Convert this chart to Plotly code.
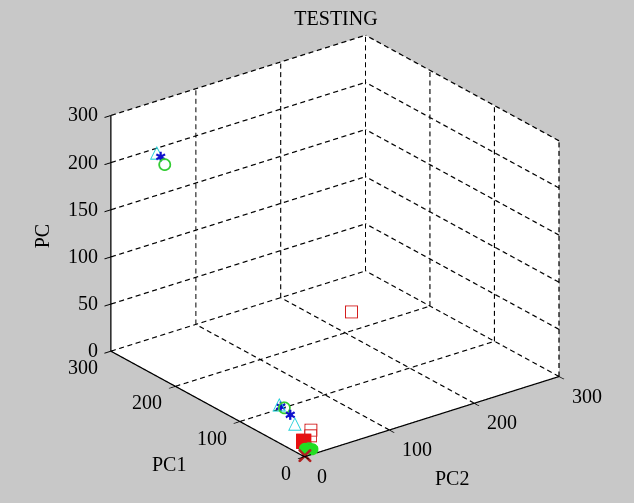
import numpy as np
import plotly.graph_objects as go

# ---- axis ticks ----
PC1_TICKS = [0, 100, 200, 300]
PC2_TICKS = [0, 100, 200, 300]
PC_TICKVALS = [0, 50, 100, 150, 200, 250]
PC_TICKTEXT = ["0", "50", "100", "150", "200", "300"]

# ---- data (PC1, PC2, PC) per class ----
cyan_tri_pc1 = [241, 48, 88]
cyan_tri_pc2 = [9, 25, 37]
cyan_tri_pc = [230, 10, 12]

blue_star_pc1 = [235, 87, 67]
blue_star_pc2 = [9, 38, 34]
blue_star_pc = [228, 10, 10]

green_circ_pc1 = [229, 83, 4]
green_circ_pc2 = [9, 39, 8]
green_circ_pc = [222, 10, 5]

red_sq_pc1 = [214, 19, 9]
red_sq_pc2 = [218, 22, 14]
red_sq_pc = [12, 15, 15]

red_fill_pc1 = [12]
red_fill_pc2 = [8]
red_fill_pc = [10]

green_fill_pc1 = [6, 1]
green_fill_pc2 = [5, 10]
green_fill_pc = [5, 5]

blue_fill_pc1 = [9]
blue_fill_pc2 = [4]
blue_fill_pc = [3]

red_x_pc1 = [2]
red_x_pc2 = [2]
red_x_pc = [0]

PC1_MAX = PC1_TICKS[-1]
PC2_MAX = PC2_TICKS[-1]
PC_MAX = PC_TICKVALS[-1]

FONT = "Liberation Serif"
FS = 20

fig = go.Figure()

# ---- dashed grid built from tick arrays (x = PC2, y = PC1, z = PC) ----
gx, gy, gz = [], [], []
# dash pattern lengths, in axis units, per axis direction (x, y, z)
DASH = {0: (5.7, 9.7), 1: (6.8, 11.5), 2: (5.3, 9.0)}

def dashed(a, b):
    a = np.array(a, float); b = np.array(b, float)
    d = b - a
    k = int(np.argmax(np.abs(d)))
    L = abs(d[k]); u = d / L
    on, period = DASH[k]
    for s in np.arange(0, L, period):
        e = min(s + on, L)
        p0 = a + u * s; p1 = a + u * e
        gx.extend([p0[0], p1[0], None]); gy.extend([p0[1], p1[1], None]); gz.extend([p0[2], p1[2], None])

for p in PC1_TICKS[1:]:
    dashed((0, p, 0), (PC2_MAX, p, 0))
for q in PC2_TICKS[1:]:
    dashed((q, 0, 0), (q, PC1_MAX, 0))
for h in PC_TICKVALS[1:]:
    dashed((0, PC1_MAX, h), (PC2_MAX, PC1_MAX, h))
    dashed((PC2_MAX, 0, h), (PC2_MAX, PC1_MAX, h))
for q in PC2_TICKS[1:]:
    dashed((q, PC1_MAX, 0), (q, PC1_MAX, PC_MAX))
for p in PC1_TICKS[:-1]:
    dashed((PC2_MAX, p, 0), (PC2_MAX, p, PC_MAX))

fig.add_trace(go.Scatter3d(x=gx, y=gy, z=gz, mode="lines",
                           line=dict(color="black", width=2.5),
                           hoverinfo="skip", showlegend=False))

# ---- solid axis lines ----
ax_x = [0, 0, None, 0, PC2_MAX, None, 0, 0]
ax_y = [0, PC1_MAX, None, 0, 0, None, PC1_MAX, PC1_MAX]
ax_z = [0, 0, None, 0, 0, None, 0, PC_MAX]
fig.add_trace(go.Scatter3d(x=ax_x, y=ax_y, z=ax_z, mode="lines",
                           line=dict(color="black", width=2.5),
                           hoverinfo="skip", showlegend=False))

# ---- data ----
def pts(pc1, pc2, pc, **kw):
    fig.add_trace(go.Scatter3d(x=pc2, y=pc1, z=pc, showlegend=False, hoverinfo="skip", **kw))

pts(red_sq_pc1, red_sq_pc2, red_sq_pc, mode="text", text=["□"] * len(red_sq_pc1),
    textposition="middle center",
    textfont=dict(family="DejaVu Sans", size=17, color="#d41c1c"))
pts(red_fill_pc1, red_fill_pc2, red_fill_pc, mode="markers",
    marker=dict(symbol="square", size=8, color="#e81010"))
pts(green_fill_pc1, green_fill_pc2, green_fill_pc, mode="markers",
    marker=dict(symbol="circle", size=7, color="#22dd22"))
pts(blue_fill_pc1, blue_fill_pc2, blue_fill_pc, mode="markers",
    marker=dict(symbol="circle", size=4, color="#0000cc"))
pts(red_x_pc1, red_x_pc2, red_x_pc, mode="markers",
    marker=dict(symbol="x", size=3, color="#b02020"))
pts(green_circ_pc1, green_circ_pc2, green_circ_pc, mode="markers",
    marker=dict(symbol="circle-open", size=7, color="#33cc33", line=dict(width=2, color="#33cc33")))
pts(cyan_tri_pc1, cyan_tri_pc2, cyan_tri_pc, mode="text", text=["△"] * len(cyan_tri_pc1),
    textposition="middle center",
    textfont=dict(size=18, color="#22d0d8"))
pts(blue_star_pc1, blue_star_pc2, blue_star_pc, mode="text", text=["✱"] * len(blue_star_pc1),
    textposition="middle center",
    textfont=dict(size=14, color="#1010cc"))

# ---- tick labels & axis titles as scene annotations (upright text) ----
anns = []
def ann(pc1, pc2, pc, text, xanchor, yanchor, xshift, yshift, angle=0):
    anns.append(dict(x=pc2, y=pc1, z=pc, text=text, showarrow=False,
                     xanchor=xanchor, yanchor=yanchor, xshift=xshift, yshift=yshift,
                     textangle=angle, font=dict(family=FONT, size=FS, color="black")))

for q in PC2_TICKS:
    ann(0, q, 0, str(q), "left", "middle", 11, -19)
for p in PC1_TICKS:
    ann(p, 0, 0, str(p), "right", "middle", -11, -16)
for h, t in zip(PC_TICKVALS, PC_TICKTEXT):
    ann(PC1_MAX, 0, h, t, "right", "middle", -11, 1)
ann(PC1_MAX / 2, 0, 0, "PC1", "center", "middle", -39, -60)
ann(0, PC2_MAX / 2, 0, "PC2", "center", "middle", 20, -61)
ann(PC1_MAX, 0, PC_MAX / 2, "PC", "center", "middle", -69, -3, angle=-90)

axis_common = dict(showgrid=False, zeroline=False, showline=False,
                   showbackground=True, backgroundcolor="white",
                   ticks="outside", ticklen=8, tickcolor="black", tickwidth=2,
                   showticklabels=False, title=dict(text=""),
                   showspikes=False)

S = 1.30
fig.update_layout(
    width=634, height=503,
    margin=dict(l=0, r=0, t=0, b=0),
    paper_bgcolor="#c8c8c8",
    font=dict(family=FONT, color="black"),
    title=dict(text="TESTING", x=0.53, xanchor="center", y=0.964, yanchor="middle",
               font=dict(family=FONT, size=FS, color="black")),
    scene=dict(
        domain=dict(x=[0.0568, 1.0], y=[0.0219, 1.0]),
        xaxis=dict(range=[0, PC2_MAX], tickvals=PC2_TICKS, **axis_common),
        yaxis=dict(range=[0, PC1_MAX], tickvals=PC1_TICKS, **axis_common),
        zaxis=dict(range=[0, PC_MAX], tickvals=PC_TICKVALS, **axis_common),
        aspectmode="manual", aspectratio=dict(x=S, y=S, z=0.81 * S),
        camera=dict(projection=dict(type="orthographic"),
                    eye=dict(x=-0.551 * 1.6, y=-0.725 * 1.6, z=0.415 * 1.6),
                    up=dict(x=0, y=0, z=1),
                    center=dict(x=0, y=0, z=0)),
        bgcolor="rgba(0,0,0,0)",
        annotations=anns,
    ),
)

fig.write_html("out.html")
